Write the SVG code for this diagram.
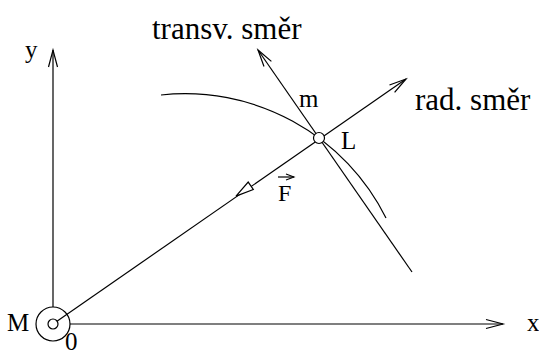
<svg xmlns="http://www.w3.org/2000/svg" width="539" height="354" viewBox="0 0 539 354">
<style>
.ln{stroke:#000;stroke-width:1.2;fill:none}
.t{font-family:"Liberation Serif","Times New Roman",serif;fill:#000}
.big{font-size:31px}
.sm{font-size:25px}
</style>
<defs>
<marker id="v" markerUnits="userSpaceOnUse" markerWidth="20" markerHeight="12" refX="0" refY="0" viewBox="-18 -6 20 12" orient="auto" overflow="visible">
<path d="M -17 -4.5 L 0 0 L -17 4.5" fill="none" stroke="#000" stroke-width="1.2"/>
</marker>
<marker id="vs" markerUnits="userSpaceOnUse" markerWidth="12" markerHeight="8" refX="0" refY="0" viewBox="-10 -4 12 8" orient="auto" overflow="visible">
<path d="M -8 -3 L 0 0 L -8 3" fill="none" stroke="#000" stroke-width="1.1"/>
</marker>
</defs>
<g id="connectors">
<line id="y-axis" class="ln" x1="53" y1="307" x2="53" y2="50" marker-end="url(#v)"/>
<line id="x-axis" class="ln" x1="70" y1="324" x2="503" y2="324" marker-end="url(#v)"/>
<line id="radial" class="ln" x1="53" y1="324" x2="406" y2="79" marker-end="url(#v)"/>
<line id="transverse" class="ln" x1="412" y1="272" x2="258" y2="50" marker-end="url(#v)"/>
<path id="trajectory" class="ln" d="M 161 95 A 224.5 224.5 0 0 1 386 218"/>
<polygon id="force-arrow" points="236,196.1 253.3,189.5 248.2,182.1" fill="#fff" stroke="#000" stroke-width="1.2"/>
</g>
<g id="node-M">
<circle class="ln" cx="53" cy="324" r="17"/>
<circle cx="53" cy="324" r="5" fill="#fff" stroke="#000" stroke-width="1.2"/>
<text class="t sm" x="7" y="331">M</text>
<text class="t sm" x="65" y="350">0</text>
</g>
<g id="node-L">
<circle cx="319" cy="138" r="5.5" fill="#fff" stroke="#000" stroke-width="1.2"/>
<text class="t sm" x="341" y="149">L</text>
<text class="t sm" x="299" y="107">m</text>
</g>
<g id="labels">
<text class="t sm" x="25" y="58">y</text>
<text class="t sm" x="527" y="331">x</text>
<text class="t big" x="152" y="39">transv. směr</text>
<text class="t big" x="415" y="110">rad. směr</text>
<text class="t" font-size="24" x="278" y="201">F</text>
<line class="ln" x1="278" y1="177" x2="294" y2="177" marker-end="url(#vs)"/>
</g>
</svg>
